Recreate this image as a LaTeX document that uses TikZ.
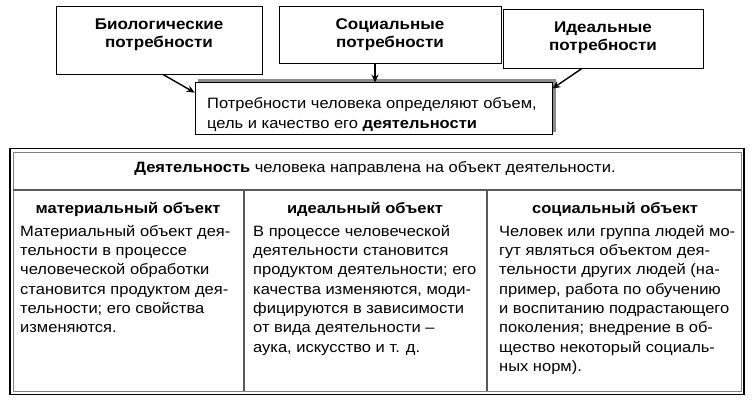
\documentclass[tikz,border=0pt]{standalone}
\usepackage{fontspec}
\setmainfont{Liberation Sans}[FakeStretch=1.1]
\usetikzlibrary{arrows.meta}
\begin{document}
\begin{tikzpicture}[x=1pt,y=-1pt,
  topbox/.style={draw=black,line width=0.9pt,fill=white,inner sep=0pt},
  toptext/.style={align=center,anchor=north,inner sep=0pt,font=\fontsize{15.5}{18.5}\selectfont\bfseries},
  bodytext/.style={align=left,anchor=north west,inner sep=0pt,font=\fontsize{15}{19.3}\selectfont},
  headtext/.style={anchor=base,inner sep=0pt,font=\fontsize{15}{18}\selectfont\bfseries},
  arr/.style={line width=1.4pt,-{Stealth[length=8pt,width=7pt]}},
  divider/.style={line width=1.6pt,draw=black!65}
]
\useasboundingbox (0,0) rectangle (753,402);
\fill[white] (0,0) rectangle (753,402);

% top boxes
\node[topbox,minimum width=206pt,minimum height=68pt] (b1) at (159,40) {};
\node[topbox,minimum width=222pt,minimum height=57pt] (b2) at (390,34.5) {};
\node[topbox,minimum width=200pt,minimum height=59pt] (b3) at (603,38.5) {};
\node[toptext] (b1t) at (159,17) {\rule{0pt}{12pt}Биологические\\потребности};
\node[toptext] (b2t) at (390,17) {\rule{0pt}{12pt}Социальные\\потребности};
\node[toptext] (b3t) at (603,20) {\rule{0pt}{12pt}Идеальные\\потребности};

% middle box with shadow
\fill[black!45] (198,79) rectangle (556,132);
\node[draw=black,line width=0.8pt,fill=white,minimum width=357pt,minimum height=52pt,inner sep=0pt] (m) at (373.5,108) {};
\node[bodytext,font=\fontsize{15}{20}\selectfont] (mt) at (207,96) {\rule{0pt}{12pt}Потребности человека определяют объем,\\цель и качество его \textbf{деятельности}};

% arrows
\coordinate (a1) at ([xshift=4pt]b1.south);
\coordinate (a2) at ([xshift=-15pt]b2.south);
\coordinate (a3) at ([xshift=-21pt]b3.south);
\draw[arr] (a1) -- ([yshift=-11pt]m.north west);
\draw[arr] (a2) -- ([yshift=-1pt]a2 |- m.north);
\draw[arr] (a3) -- ([yshift=-7pt]m.north east);

% table
\node[draw=black,line width=1.6pt,minimum width=734pt,minimum height=246pt,inner sep=0pt] (tab) at (377,271.5) {};
\draw[black!50,line width=1pt] (13,152) rectangle (741,391);
\coordinate (h1) at (13,190);
\coordinate (h2) at (741,190);
\draw[divider,line width=1.2pt] (h1) -- (h2);
\coordinate (d1t) at (244,190);
\coordinate (d1b) at (244,391);
\coordinate (d2t) at (487,190);
\coordinate (d2b) at (487,391);
\draw[divider] (d1t) -- (d1b);
\draw[divider] (d2t) -- (d2b);

\node[anchor=base,inner sep=0pt,font=\fontsize{15}{18}\selectfont] (hdr) at (375,172) {\textbf{Деятельность} человека направлена на объект деятельности.};

\node[headtext] (c1h) at (128,213) {материальный объект};
\node[headtext] (c2h) at (365,213) {идеальный объект};
\node[headtext] (c3h) at (615,213) {социальный объект};

\node[bodytext] (c1) at (20,224) {\rule{0pt}{12pt}Материальный объект дея-\\тельности в процессе\\человеческой обработки\\становится продуктом дея-\\тельности; его свойства\\изменяются.};
\node[bodytext] (c2) at (253,224) {\rule{0pt}{12pt}В процессе человеческой\\деятельности становится\\продуктом деятельности; его\\качества изменяются, моди-\\фицируются в зависимости\\от вида деятельности –\\аука, искусство и т. д.};
\node[bodytext] (c3) at (499,224) {\rule{0pt}{12pt}Человек или группа людей мо-\\гут являться объектом дея-\\тельности других людей (на-\\пример, работа по обучению\\и воспитанию подрастающего\\поколения; внедрение в об-\\щество некоторый социаль-\\ных норм).};
\end{tikzpicture}
\end{document}
